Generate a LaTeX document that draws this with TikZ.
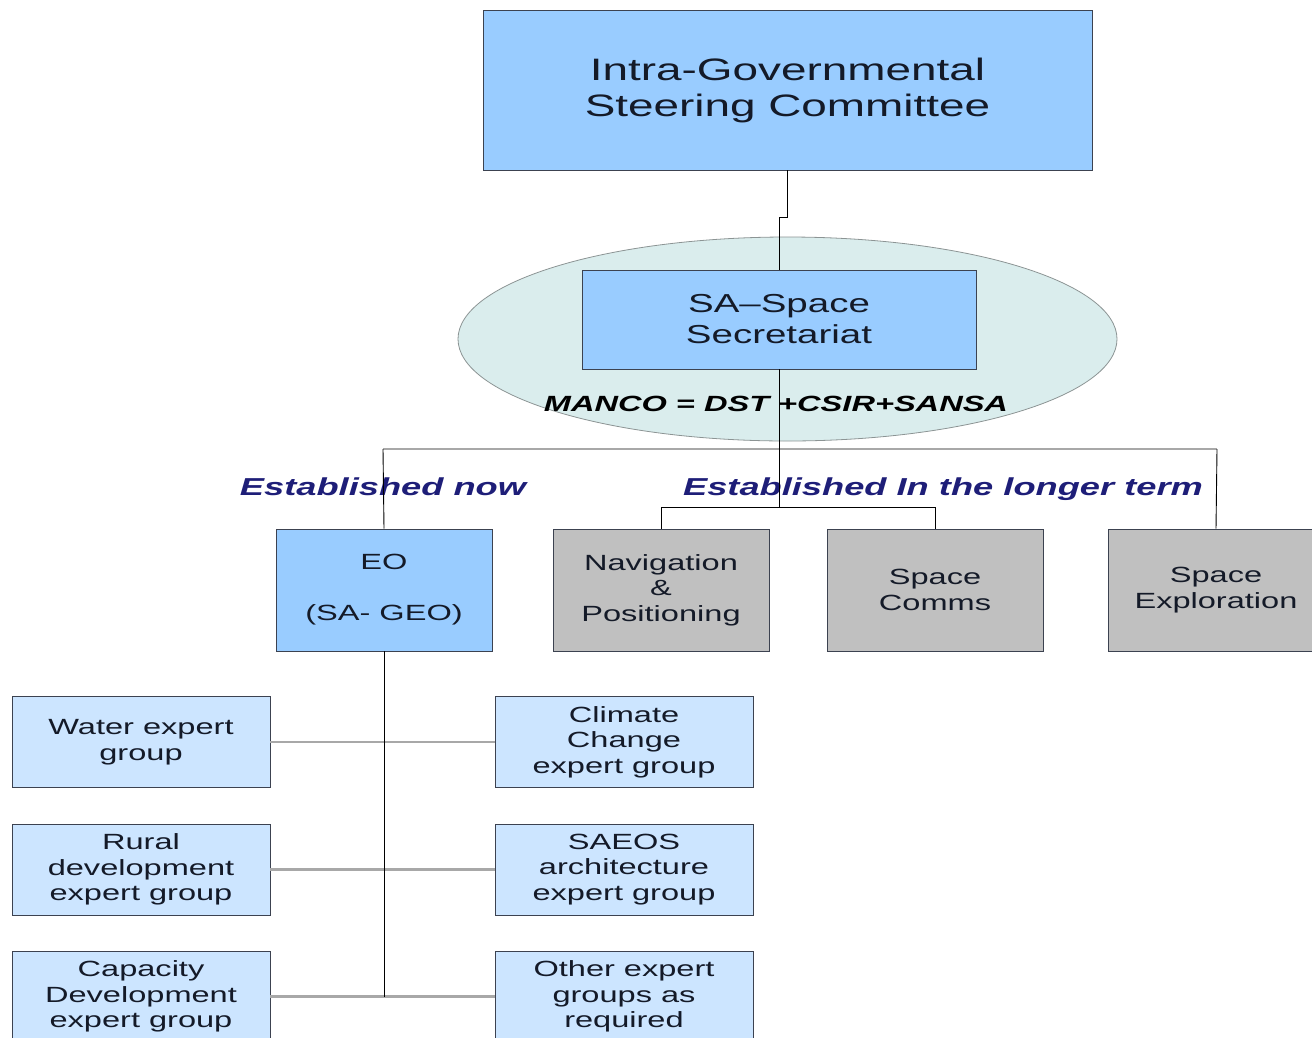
\documentclass[tikz,border=0pt]{standalone}
\usepackage{fontspec}
\setmainfont{Liberation Sans}[FakeStretch=1.48]
\usetikzlibrary{shapes.geometric}

\definecolor{boxblue}{HTML}{99CCFF}
\definecolor{boxpale}{HTML}{CCE5FF}
\definecolor{boxgrey}{HTML}{C0C0C0}
\definecolor{ringfill}{HTML}{DAEDED}
\definecolor{boxline}{HTML}{3C4250}
\definecolor{busgrey}{HTML}{A8A8A8}
\definecolor{ringline}{HTML}{8C9494}
\definecolor{textdark}{HTML}{141A28}
\definecolor{headnavy}{HTML}{1E1E78}

\tikzset{
  box/.style={draw=boxline, line width=0.8pt, inner sep=0pt, align=center,
    text=textdark, font={\fontsize{22}{25.5}\selectfont}},
  bluebox/.style={box, fill=boxblue},
  palebox/.style={box, fill=boxpale, minimum width=258, minimum height=91},
  greybox/.style={box, fill=boxgrey, minimum width=216, minimum height=122},
  link/.style={draw=black, line width=0.9pt},
  bus/.style={draw=busgrey, line width=2.5pt},
  heading/.style={text=headnavy, text height=18pt, text depth=5pt,
    font={\fontsize{24.5}{29}\selectfont\bfseries\itshape}}
}

\begin{document}
\begin{tikzpicture}[x=1pt,y=-1pt]
\useasboundingbox (0,0) rectangle (1312,1037);

% top of the structure
\node[bluebox, minimum width=609, minimum height=160,
      font={\fontsize{31}{36}\selectfont}] (igsc) at (787.5,90)
      {Intra-Governmental\\Steering Committee};

% management committee ring
\node[ellipse, draw=ringline, line width=0.8pt, fill=ringfill,
      minimum width=659, minimum height=204] (ring) at (787.5,339) {};
\node[bluebox, minimum width=394, minimum height=99,
      font={\fontsize{26}{31}\selectfont}] (sec) at (779,319.5)
      {SA--Space\\Secretariat};
\node[text=black, font={\fontsize{22}{26}\selectfont\bfseries\itshape}] (manco)
      at (776,404) {MANCO = DST +CSIR+SANSA};

% headings
\node[heading] (now) at (383,488.5) {Established now};
\node[heading] (later) at (943,488.5) {Established In the longer term};

% programme boxes
\node[bluebox, minimum width=216, minimum height=122] (eo) at (384,590)
      {EO\\[25.5pt](SA- GEO)};
\node[greybox] (nav) at (661,590) {Navigation\\\&\\Positioning};
\node[greybox] (comms) at (935,590) {Space\\Comms};
\node[greybox] (explore) at (1216,590) {Space\\Exploration};

% expert groups
\node[palebox] (water) at (141,742) {Water expert\\group};
\node[palebox] (rural) at (141,869.5) {Rural\\development\\expert group};
\node[palebox] (capacity) at (141,996.5) {Capacity\\Development\\expert group};
\node[palebox] (climate) at (624,742) {Climate\\Change\\expert group};
\node[palebox] (saeos) at (624,869.5) {SAEOS\\architecture\\expert group};
\node[palebox] (other) at (624,996.5) {Other expert\\groups as\\required};

% connectors
\coordinate (jog) at (779,217);
\coordinate (busL) at (383,449);
\coordinate (busR) at (1217,449);
\coordinate (subL) at (661,507);
\coordinate (subR) at (935,507);

\draw[link] (igsc.south) |- (jog) -- (sec.north);
\draw[bus] (busL) -- (busR);
\draw[link] (sec.south) -- (sec.south |- subL);
\draw[link] (subL) -- (subR);
\draw[link] (subL) -- (nav.north);
\draw[link] (subR) -- (comms.north);
\draw[link] (busL) -- (eo.north);
\draw[link] (busR) -- (explore.north);

\draw[bus] (water.east) -- (climate.west);
\draw[bus] (rural.east) -- (saeos.west);
\draw[bus] (capacity.east) -- (other.west);
\draw[link] (eo.south) -- (eo.south |- capacity.east);
\end{tikzpicture}
\end{document}
